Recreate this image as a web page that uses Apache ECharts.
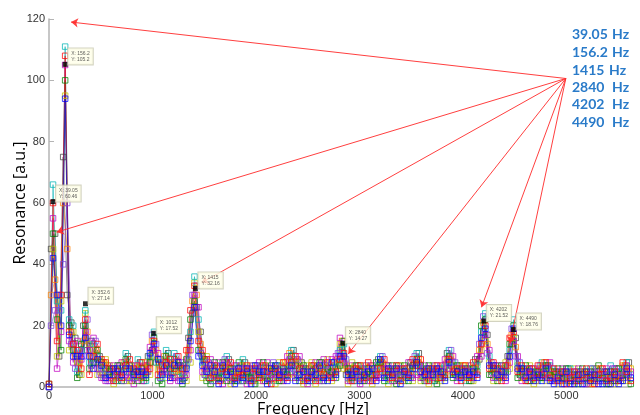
<!DOCTYPE html>
<html>
<head>
<meta charset="utf-8">
<script src="https://cdn.jsdelivr.net/npm/echarts@6/dist/echarts.min.js"></script>
<style>
html,body{margin:0;padding:0;background:#fff;}
#chart{width:640px;height:415px;}
</style>
</head>
<body>
<div id="chart"></div>
<script>
// Frequency bins (Hz)
const freqs = [0,39,78,117,156,195,234,273,312,351,
391,430,469,508,547,586,625,664,703,742,
781,820,859,898,937,976,1015,1054,1093,1132,
1172,1211,1250,1289,1328,1367,1406,1445,1484,1523,
1562,1601,1640,1679,1718,1757,1796,1835,1874,1913,
1953,1992,2031,2070,2109,2148,2187,2226,2265,2304,
2343,2382,2421,2460,2499,2538,2577,2616,2655,2694,
2734,2773,2812,2851,2890,2929,2968,3007,3046,3085,
3124,3163,3202,3241,3280,3319,3358,3397,3436,3475,
3515,3554,3593,3632,3671,3710,3749,3788,3827,3866,
3905,3944,3983,4022,4061,4100,4139,4178,4217,4256,
4296,4335,4374,4413,4452,4491,4530,4569,4608,4647,
4686,4725,4764,4803,4842,4881,4920,4959,4998,5037,
5077,5116,5155,5194,5233,5272,5311,5350,5389,5428,
5467,5506,5545,5584,5623];

// Second set of bins (Hz), shifted half a bin
const freqsB = [20,59,98,137,176,215,254,293,332,371,
411,450,489,528,567,606,645,684,723,762,
801,840,879,918,957,996,1035,1074,1113,1152,
1192,1231,1270,1309,1348,1387,1426,1465,1504,1543,
1582,1621,1660,1699,1738,1777,1816,1855,1894,1933,
1973,2012,2051,2090,2129,2168,2207,2246,2285,2324,
2363,2402,2441,2480,2519,2558,2597,2636,2675,2714,
2754,2793,2832,2871,2910,2949,2988,3027,3066,3105,
3144,3183,3222,3261,3300,3339,3378,3417,3456,3495,
3535,3574,3613,3652,3691,3730,3769,3808,3847,3886,
3925,3964,4003,4042,4081,4120,4159,4198,4237,4276,
4316,4355,4394,4433,4472,4511,4550,4589,4628,4667,
4706,4745,4784,4823,4862,4901,4940,4979,5018,5057,
5097,5136,5175,5214,5253,5292,5331,5370,5409,5448,
5487,5526,5565,5604];

// Resonance traces (a.u.) on freqs
const traceA = [0,66,28,25,111,22,20,5,12,25, 8,14,10,6,4,3,5,2,6,11, 5,3,9,4,2,10,18,8,3,12, 4,11,5,3,7,18,36,22,8,4, 6,2,5,3,10,4,6,2,9,3, 5,2,6,4,3,5,2,7,4,6, 12,5,3,4,6,2,5,3,7,4, 6,8,12,14,3,5,2,4,6,3, 5,7,10,4,2,6,3,5,2,6, 4,11,6,3,5,2,4,6,7,12, 8,3,5,2,6,4,7,18,24,10, 5,3,6,4,12,22,8,4,6,3, 5,2,8,5,7,3,5,2,4,6, 3,5,2,4,6,3,5,2,4,7, 3,5,6,8,4];
const traceB = [1,60,15,30,108,18,14,12,6,22, 4,10,14,9,8,6,2,5,3,7, 9,6,4,8,5,6,15,4,7,8, 9,6,10,6,12,25,33,15,12,9, 3,7,2,6,5,8,3,5,4,7, 2,6,3,7,5,1,6,3,8,3, 8,10,6,2,3,7,2,6,4,8, 3,5,9,11,5,2,6,7,3,8, 2,4,6,9,5,3,7,2,6,4, 9,7,9,5,2,6,7,3,4,9, 5,6,2,7,3,8,4,14,20,6, 8,6,2,7,16,18,5,7,2,6, 3,7,4,8,3,6,2,5,1,3, 5,2,4,6,3,1,4,6,2,3, 5,2,8,5,2];
const traceC = [0,55,6,18,105,15,8,15,9,18, 12,16,6,3,2,2,7,4,8,4, 3,1,7,2,7,13,12,11,5,5, 2,3,2,8,4,12,30,26,5,6, 9,4,8,1,8,2,7,3,6,1, 6,4,8,2,8,4,3,5,2,10, 5,3,10,6,1,4,8,2,9,3, 9,10,16,8,2,7,4,1,5,2, 7,3,3,6,7,2,5,6,4,8, 3,4,3,7,4,3,5,7,9,6, 10,2,6,4,5,3,10,10,17,12, 3,7,4,2,8,15,10,2,5,4, 6,3,6,3,8,2,4,6,3,5, 2,6,3,1,4,5,2,4,6,2, 6,3,4,7,5];
const traceD = [1,50,22,12,100,20,12,3,14,20, 6,8,12,8,6,5,4,7,2,9, 7,5,2,6,3,8,16,2,1,10, 6,9,7,1,9,22,28,12,10,2, 1,8,3,8,2,6,2,8,2,5, 3,1,4,8,2,7,5,2,6,4, 10,7,2,7,5,3,6,8,2,6, 5,3,7,15,6,3,7,5,2,6, 4,8,8,2,4,7,1,4,7,2, 7,9,7,2,7,5,1,4,3,10, 3,7,4,6,2,6,5,20,22,4, 6,2,7,5,14,20,3,5,7,2, 4,5,3,7,4,5,6,3,6,2, 4,1,6,3,5,2,7,3,1,5, 2,6,3,4,1];
const traceE = [0,45,10,28,95,12,18,8,4,24, 14,12,4,4,9,7,1,3,5,2, 2,7,6,3,8,4,10,6,8,3, 8,5,4,5,2,8,34,18,3,10, 5,3,6,4,7,1,5,4,7,2, 7,5,2,3,6,3,1,8,3,8, 3,9,8,1,7,8,1,4,6,9, 2,7,14,6,1,8,3,6,7,4, 1,5,5,7,1,5,4,7,3,5, 2,5,2,6,1,7,3,2,6,4, 7,4,7,3,7,2,8,12,15,8, 2,5,3,8,6,16,7,3,4,7, 1,6,7,2,5,4,1,4,2,4, 6,3,5,2,1,6,3,5,3,4, 1,4,7,2,6];
const traceF = [0,42,30,20,94,17,10,10,10,16, 10,6,9,7,3,4,6,6,4,6, 6,4,5,5,4,11,14,9,4,7, 3,7,8,2,6,15,26,10,7,5, 7,5,1,7,4,5,1,6,3,6, 1,7,5,5,1,6,7,4,5,2, 7,2,4,5,2,5,4,7,3,2, 8,4,10,10,4,4,5,2,4,5, 6,2,9,3,6,4,6,1,5,3, 6,8,5,4,6,4,6,5,2,8, 4,5,3,5,4,5,3,16,19,7, 7,4,5,3,10,19,6,6,3,5, 2,4,2,6,2,1,3,1,5,1, 1,4,1,5,2,4,1,1,5,1, 4,1,2,6,3];

// Resonance traces (a.u.) on freqsB
const traceG = [30,35,20,60,45,18,10,8,15,18, 10,12,6,8,5,3,6,4,8,6, 4,7,3,6,7,15,12,5,10,7, 5,8,4,6,12,28,30,14,6,7, 4,6,2,8,6,3,5,7,4,6, 2,5,3,7,4,6,3,5,8,11, 9,7,5,3,6,4,7,5,3,7, 5,9,15,7,3,6,4,2,5,7, 3,6,8,5,3,6,4,2,6,5, 8,9,5,3,6,4,3,7,9,10, 6,4,7,3,5,6,12,21,14,6, 4,6,3,7,17,13,6,3,5,4, 2,6,8,4,5,3,2,5,3,1, 4,2,5,3,1,4,6,3,5,2, 4,3,7,6];
const traceH = [45,50,10,75,30,21,16,4,20,12, 15,8,10,3,7,6,2,7,5,10, 2,5,8,2,10,12,8,9,6,11, 3,5,7,3,16,24,26,18,9,3, 6,3,5,5,9,6,2,4,8,3, 5,7,4,2,6,3,7,2,5,7, 12,4,8,6,2,7,3,8,5,4, 8,6,13,4,6,2,7,5,3,4, 6,9,5,7,5,2,7,5,3,8, 6,11,3,6,4,2,6,5,11,7, 4,7,5,6,2,9,9,18,17,4, 7,3,5,10,14,16,4,6,2,6, 5,3,5,7,2,5,4,3,6,4, 2,5,3,1,4,6,3,5,1,4, 6,2,5,8];
const traceI = [20,25,25,40,60,14,6,12,10,22, 7,15,4,6,2,4,5,3,2,3, 7,3,5,4,5,17,14,3,8,4, 8,10,2,5,9,30,33,11,4,8, 2,7,4,9,3,5,7,2,6,2, 7,3,6,5,3,8,4,6,3,9, 6,9,3,5,4,3,6,2,7,6, 3,11,11,9,2,5,3,6,7,2, 5,4,10,3,6,4,3,6,4,3, 10,7,6,2,5,7,4,3,6,12, 8,3,6,4,7,4,14,23,11,8, 3,5,7,5,19,10,8,4,6,3, 4,7,4,3,6,2,5,1,4,3, 5,3,1,4,6,2,5,2,4,6, 3,5,3,4];

// Data tips
const tipX = [39.05,156.2,352.6,1012,1415,2840,4202,4490];
const tipY = [60.46,105.2,27.14,17.52,32.16,14.27,21.52,18.76];

// Annotation arrows (data units)
const arrowFrom = [4995,100.6];
const arrowToX = [213,74,1475,2892,4180,4454];
const arrowToY = [119,50.5,34,10.8,26,14.2];

// Peak list text
const peakLabels = ['39.05','156.2','1415','2840','4202','4490'];
const peakUnit = 'Hz';

// Axis ticks
const xTicks = [0,1000,2000,3000,4000,5000];
const yTicks = [0,20,40,60,80,100,120];

const traces = [
  {x: freqsB, d: traceH, c: '#404040'},
  {x: freqs,  d: traceE, c: '#c0c000'},
  {x: freqs,  d: traceA, c: '#00b4b4'},
  {x: freqsB, d: traceG, c: '#ff8000'},
  {x: freqs,  d: traceC, c: '#c000c0'},
  {x: freqs,  d: traceD, c: '#008000'},
  {x: freqsB, d: traceI, c: '#7f3fdf'},
  {x: freqs,  d: traceB, c: '#ff0000'},
  {x: freqs,  d: traceF, c: '#0000ff'}
];

const series = traces.map(t => ({
  type: 'line',
  data: t.x.map((f, i) => [f, t.d[i]]),
  symbol: 'rect',
  symbolSize: 5.5,
  showSymbol: true,
  lineStyle: {color: t.c, width: 0.8, opacity: 0.75},
  itemStyle: {color: 'rgba(255,255,255,0)', borderColor: t.c, borderWidth: 1, opacity: 0.75},
  silent: true,
  z: 2
}));

series.push({
  type: 'scatter',
  data: tipX.map((x, i) => [x, tipY[i]]),
  symbol: 'rect',
  symbolSize: 5,
  itemStyle: {color: '#000'},
  z: 5,
  label: {
    show: true,
    position: [5.5, -13.5],
    align: 'left',
    verticalAlign: 'top',
    formatter: p => 'X: ' + p.value[0] + '\nY: ' + p.value[1],
    fontSize: 5,
    lineHeight: 6,
    fontFamily: 'Liberation Sans',
    color: '#333',
    backgroundColor: '#ffffe8',
    borderColor: '#c8c8b0',
    borderWidth: 1,
    padding: [2, 3]
  },
  markLine: {
    silent: true,
    symbol: ['none', 'arrow'],
    symbolSize: 7,
    label: {show: false},
    lineStyle: {color: '#ff2a2a', width: 1, type: 'solid', opacity: 0.9},
    emphasis: {disabled: true},
    data: arrowToX.map((x, i) => [
      {coord: arrowFrom},
      {coord: [x, arrowToY[i]]}
    ])
  }
});

const lineYs = [34, 52, 70, 87, 104, 122];
const unitX = [612, 612, 609, 612, 612, 612];
const graphics = [];
peakLabels.forEach((t, i) => {
  graphics.push({type: 'text', x: 572, y: lineYs[i],
    style: {text: t, fill: '#2a7bc9', fontSize: 14, fontWeight: 'bold', fontFamily: 'Lato', verticalAlign: 'middle'}});
  graphics.push({type: 'text', x: unitX[i], y: lineYs[i],
    style: {text: peakUnit, fill: '#2a7bc9', fontSize: 14, fontWeight: 'bold', fontFamily: 'Lato', verticalAlign: 'middle'}});
});

const chart = echarts.init(document.getElementById('chart'), null, {renderer: 'canvas'});
chart.setOption({
  animation: false,
  backgroundColor: '#fff',
  grid: {left: 49, right: 9, top: 19, bottom: 28, containLabel: false, outerBoundsMode: 'none'},
  xAxis: {
    type: 'value', min: 0, max: 5625, interval: 1000,
    name: 'Frequency [Hz]', nameLocation: 'middle', nameGap: 14, nameMoveOverlap: false,
    nameTextStyle: {fontSize: 16, fontFamily: 'Open Sans', color: '#000', padding: [0, 54, 0, 0]},
    axisLine: {show: true, lineStyle: {color: '#b4b4b4', width: 1.5}},
    axisTick: {show: true, inside: true, length: 5, lineStyle: {color: '#b4b4b4'}},
    axisLabel: {fontSize: 11, fontFamily: 'Liberation Sans', color: '#333', margin: 3,
      formatter: v => xTicks.includes(v) ? String(v) : ''},
    splitLine: {show: false}
  },
  yAxis: {
    type: 'value', min: 0, max: 120, interval: 20,
    name: 'Resonance [a.u.]', nameLocation: 'middle', nameGap: 21, nameMoveOverlap: false,
    nameTextStyle: {fontSize: 16, fontFamily: 'Open Sans', color: '#000'},
    axisLine: {show: true, lineStyle: {color: '#b4b4b4', width: 1.5}},
    axisTick: {show: true, inside: true, length: 5, lineStyle: {color: '#b4b4b4'}},
    axisLabel: {fontSize: 11, fontFamily: 'Liberation Sans', color: '#333', margin: 4,
      formatter: v => yTicks.includes(v) ? String(v) : ''},
    splitLine: {show: false}
  },
  series: series,
  graphic: graphics
});
</script>
</body>
</html>
